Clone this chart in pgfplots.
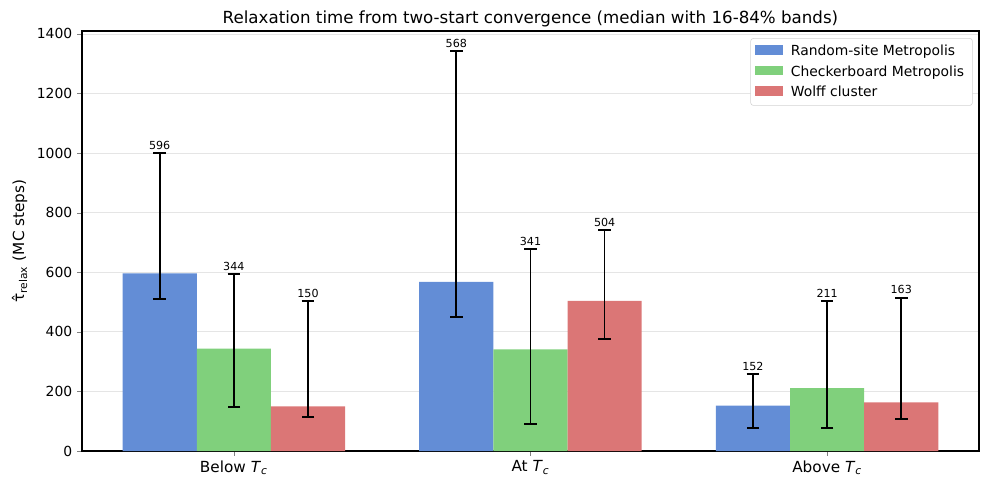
\documentclass[border=0pt]{standalone}
\usepackage{pgfplots}
\pgfplotsset{compat=1.18}
\usepackage{pgfplotstable}
\usepackage{fontspec}
\setmainfont{DejaVu Sans}
\setsansfont{DejaVu Sans}
\definecolor{cR}{HTML}{638DD6}
\definecolor{cC}{HTML}{80D07C}
\definecolor{cW}{HTML}{DB7676}
\pgfplotstableread{
x y ep em
0 596 404 86
1 568 775 118
2 152 106 75
}\tR
\pgfplotstableread{
x y ep em
0 344 250 196
1 341 337 250
2 211 292 134
}\tC
\pgfplotstableread{
x y ep em
0 150 353 36
1 504 238 128
2 163 351 56
}\tW
\newcommand{\Tc}{\textit{T}\textsubscript{\textit{c}}}
\begin{document}
\begin{tikzpicture}
\useasboundingbox (-59pt,-27.4pt) rectangle (653pt,324.7pt);
\begin{axis}[
  at={(0,0)}, anchor=south west,
  scale only axis, width=645.8pt, height=302.4pt,
  xmin=-0.512, xmax=2.512, ymin=0, ymax=1410,
  xtick={0,1,2},
  xticklabels={Below \Tc, At \Tc, Above \Tc},
  xticklabel style={font=\fontsize{11}{13}\selectfont},
  ytick={0,200,...,1400},
  yticklabel style={font=\fontsize{10}{12}\selectfont},
  /pgf/number format/assume math mode=true,
  /pgf/number format/1000 sep={},
  tick align=outside, tick pos=left,
  major tick length=3.5pt,
  ymajorgrids, grid style={gray!20, line width=0.6pt},
  axis line style={line width=0.8pt},
  title={Relaxation time from two-start convergence (median with 16-84\% bands)},
  title style={font=\fontsize{12}{14}\selectfont, yshift=-7pt},
  ylabel={τ̂\textsubscript{relax} (MC steps)},
  ylabel style={font=\fontsize{11}{13}\selectfont},
  legend style={at={(0.993,0.983)}, anchor=north east, draw=gray!35, rounded corners=2pt,
    font=\fontsize{10}{12}\selectfont, row sep=1.5pt, inner sep=3pt,
    nodes={inner xsep=3pt},
    /tikz/every odd column/.append style={column sep=3pt}},
  legend cell align=left,
  legend image code/.code={\fill[#1, sharp corners] (0pt,-2.5pt) rectangle (20pt,4.5pt);},
]
\addplot[ybar, bar width=0.25, bar shift=-0.25, fill=cR, draw=none]
  table[x=x, y=y]{\tR};
\addlegendentry{Random-site Metropolis}
\addplot[ybar, bar width=0.25, bar shift=0, fill=cC, draw=none]
  table[x=x, y=y]{\tC};
\addlegendentry{Checkerboard Metropolis}
\addplot[ybar, bar width=0.25, bar shift=0.25, fill=cW, draw=none]
  table[x=x, y=y]{\tW};
\addlegendentry{Wolff cluster}
\pgfplotsset{
  errp/.style={draw=none, mark=none, forget plot,
    error bars/.cd, y dir=both, y explicit,
    error bar style={draw=black, line width=1.2pt},
    error mark options={draw=black, rotate=90, mark size=4.5pt, line width=1.1pt}},
  lblp/.style={draw=none, mark=none, forget plot, nodes near coords, point meta=explicit symbolic,
    nodes near coords style={font=\fontsize{8}{9}\selectfont, anchor=south, inner sep=1pt, yshift=1.5pt}},
}
\addplot[errp] table[x expr=\thisrow{x}-0.25, y=y, y error plus=ep, y error minus=em]{\tR};
\addplot[errp] table[x expr=\thisrow{x}, y=y, y error plus=ep, y error minus=em]{\tC};
\addplot[errp] table[x expr=\thisrow{x}+0.25, y=y, y error plus=ep, y error minus=em]{\tW};
\addplot[lblp] table[x expr=\thisrow{x}-0.25, y expr=\thisrow{y}+\thisrow{ep}, meta=y]{\tR};
\addplot[lblp] table[x expr=\thisrow{x}, y expr=\thisrow{y}+\thisrow{ep}, meta=y]{\tC};
\addplot[lblp] table[x expr=\thisrow{x}+0.25, y expr=\thisrow{y}+\thisrow{ep}, meta=y]{\tW};
\end{axis}
\end{tikzpicture}
\end{document}
